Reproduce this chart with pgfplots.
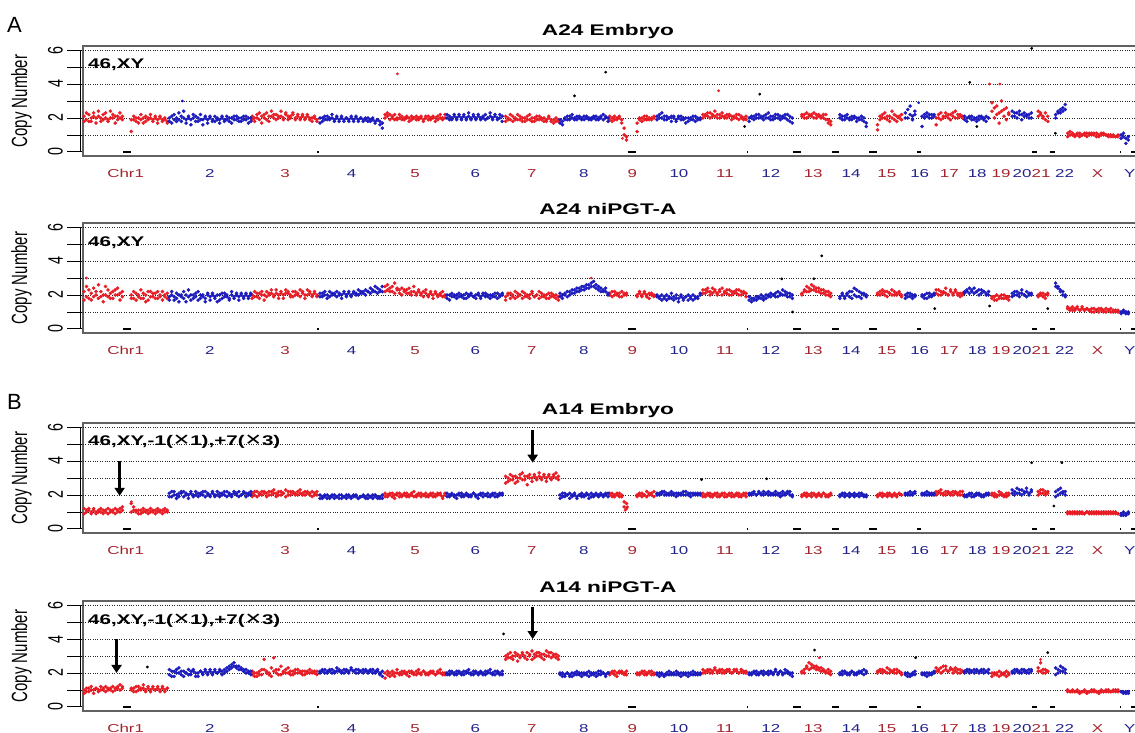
\documentclass[border=0pt]{standalone}
\usepackage{pgfplots}
\pgfplotsset{compat=1.18}
\usepackage{pgfplotstable}
\usepackage{fontspec}
\setmainfont{Liberation Sans}
\newfontfamily\hfont[FakeStretch=1.47]{Liberation Sans}
\newfontfamily\vfont[FakeStretch=0.68]{Liberation Sans}
\newfontfamily\djv[FakeStretch=1.3]{DejaVu Sans}
\usetikzlibrary{arrows.meta}
\definecolor{dred}{RGB}{232,28,36}
\definecolor{dblue}{RGB}{28,28,190}
\definecolor{lred}{RGB}{165,35,45}
\definecolor{lblue}{RGB}{35,35,140}
\newcommand{\tm}{{\djv\mdseries\fontsize{16}{16}\selectfont ✕}}
\newcommand{\yl}[1]{\vfont\fontsize{21}{21}\selectfont #1}

% columns: x (Mb, cumulative); a,b = A24 Embryo; c,d = A24 niPGT-A; e,f = A14 Embryo; g,h = A14 niPGT-A
\pgfplotstableread{
x a b c d e f g h
3 2.1 1.8 2.2 1.7 1.2 0.9 1.0 0.8
10 1.9 2.3 1.9 2.5 1.0 1.1 0.9 1.1
17 2.2 1.8 2.3 1.8 1.1 1.2 1.1 0.9
24 1.8 2.0 1.7 2.1 0.9 1.0 1.0 1.2
31 2.3 2.1 2.4 1.9 1.2 1.1 0.8 1.0
38 2.0 1.7 2.0 2.2 1.0 0.9 1.1 1.1
45 2.1 2.4 1.8 2.6 1.1 1.0 1.0 0.9
52 1.8 2.0 2.2 1.9 1.0 1.2 1.2 1.0
59 2.2 1.9 2.0 1.6 0.9 1.1 1.0 1.1
66 2.0 2.3 2.5 2.0 1.1 1.0 0.9 1.2
73 1.9 1.8 1.9 2.3 1.2 0.9 1.1 1.0
80 2.4 2.0 2.1 1.8 1.0 1.1 1.0 1.1
87 2.0 2.2 1.8 2.2 1.1 1.0 1.2 0.9
94 1.7 2.1 2.3 2.0 0.9 1.2 1.0 1.1
101 2.1 1.9 2.0 2.4 1.0 1.1 1.1 1.2
108 2.0 2.3 1.7 2.1 1.2 1.0 1.3 1.0
115 1.9 2.1 2.2 1.9 1.1 1.3 1.2 1.1
141 1.2 1.9 2.0 1.8 1.5 1.0 1.0 1.1
148 1.9 2.1 1.8 2.2 1.1 1.3 1.1 0.9
155 1.8 2.0 2.1 1.7 1.0 1.1 0.9 1.2
162 2.0 1.7 1.9 2.0 1.1 0.9 1.2 1.0
169 1.9 2.2 2.3 1.8 0.9 1.1 1.0 1.1
176 1.7 2.0 1.8 2.1 1.2 1.0 1.1 1.3
183 2.1 1.8 2.0 1.6 1.0 1.1 1.0 0.9
190 1.9 2.0 1.7 2.2 1.1 0.9 1.2 1.1
197 2.0 2.2 2.2 1.9 1.0 1.2 0.9 1.0
204 1.8 1.9 1.9 2.1 1.1 1.0 1.1 1.2
211 2.1 2.0 2.1 1.8 0.9 1.1 1.0 1.0
218 1.9 1.7 1.8 2.2 1.2 1.0 1.2 1.1
225 2.0 2.1 2.0 1.9 1.0 1.1 1.0 0.9
232 1.8 1.9 2.2 1.7 1.1 0.9 1.1 1.2
239 1.9 2.0 1.9 2.0 1.0 1.2 0.9 1.0
246 1.7 1.8 1.8 2.1 1.1 1.0 1.1 1.1
494 1.9 2.1 2.0 1.8 2.1 1.9 1.9 2.1
501 2.0 1.8 1.9 2.2 2.2 2.0 2.0 1.8
508 2.2 2.0 2.1 1.9 1.9 2.2 1.8 2.0
515 1.9 2.3 1.8 2.1 2.1 2.0 2.1 1.9
522 2.1 1.7 2.2 2.0 2.0 2.2 1.9 2.2
529 2.0 2.2 2.0 1.7 2.2 2.1 2.2 2.8
536 2.3 1.9 1.9 2.2 2.1 1.9 2.0 2.1
543 1.8 2.1 2.1 2.0 2.0 2.2 1.9 2.0
550 2.1 2.4 2.3 2.1 2.2 2.0 2.3 1.8
557 2.2 2.0 2.0 1.9 2.1 2.3 2.1 2.9
564 1.9 2.2 2.1 2.3 1.9 2.1 2.0 2.2
571 2.1 2.0 1.8 2.0 2.2 2.0 2.2 1.9
578 2.4 2.1 2.2 2.1 2.0 2.2 1.9 2.4
585 2.0 1.9 2.0 1.8 2.1 2.1 2.1 2.0
592 2.2 2.3 2.3 2.1 2.3 1.9 2.0 2.2
599 1.9 2.1 2.1 2.2 2.0 2.2 2.3 2.0
606 2.1 2.0 1.9 2.0 2.2 2.0 2.1 1.9
613 2.3 2.2 2.2 1.9 2.1 2.2 1.9 2.1
620 2.0 1.9 2.0 2.2 2.0 2.1 2.0 2.2
627 2.1 2.2 2.1 2.0 2.2 2.0 2.2 2.0
634 1.9 2.0 1.9 2.3 2.1 2.3 2.0 2.1
641 2.2 2.1 2.2 2.1 2.0 2.1 2.1 1.9
648 2.0 1.9 2.0 1.8 2.2 2.0 1.9 2.1
655 2.1 2.2 2.3 2.0 2.1 2.2 2.1 2.0
662 1.9 2.0 2.1 2.2 2.0 2.1 2.0 2.2
669 2.0 1.8 1.9 2.0 2.2 1.9 2.1 2.0
676 2.1 2.0 2.2 2.1 2.1 2.0 2.0 2.1
683 1.8 1.9 2.0 1.9 2.0 2.2 2.1 1.9
882 2.2 2.0 2.5 2.2 1.9 2.1 1.7 2.0
889 2.1 2.3 2.3 2.6 2.0 1.9 1.9 2.1
896 1.9 2.2 2.4 2.2 2.1 2.0 2.0 1.8
903 2.0 2.1 2.2 2.5 1.9 2.1 2.1 1.9
910 2.2 1.9 2.7 2.1 2.0 1.8 1.8 2.0
917 1.9 2.0 2.3 2.4 2.1 2.0 2.0 2.2
924 2.0 2.2 2.1 2.3 1.9 2.1 1.9 2.0
931 2.1 1.9 2.4 2.0 2.0 1.9 2.1 1.9
938 1.9 2.0 2.2 2.3 2.1 2.0 2.0 2.1
945 2.0 2.1 2.3 2.1 1.9 2.1 1.9 2.0
952 1.8 2.0 2.1 2.4 2.0 1.9 2.1 1.8
959 2.1 1.9 2.2 2.0 2.1 2.0 2.0 2.1
966 2.0 2.0 2.5 2.2 1.9 2.2 1.9 2.0
973 1.9 2.1 2.1 2.0 2.0 1.9 2.1 1.9
980 2.0 1.9 2.3 2.2 2.1 2.0 2.0 2.2
987 2.1 2.0 2.0 2.1 1.9 2.1 1.9 2.0
994 1.9 1.8 2.2 1.9 2.0 2.0 2.1 2.1
1001 2.0 2.1 2.1 2.3 2.1 1.9 2.0 1.9
1008 2.1 1.9 1.9 2.0 1.9 2.0 1.9 2.0
1015 1.9 2.0 2.2 2.1 2.0 2.1 2.1 2.0
1022 2.0 2.1 2.0 1.8 2.1 1.9 2.0 2.1
1029 1.8 2.0 2.1 2.2 1.9 2.0 1.9 1.9
1036 2.1 1.9 1.9 2.0 2.0 2.1 2.1 2.0
1043 2.0 2.2 2.0 2.1 2.1 2.0 2.0 2.2
1050 1.9 2.0 2.2 1.9 1.9 1.8 1.9 2.0
1057 2.2 2.0 1.9 2.0 2.0 2.1 2.0 1.9
1234 1.8 2.1 1.9 1.7 2.7 3.1 2.8 3.0
1241 2.0 1.9 2.1 2.0 3.0 2.8 3.1 2.9
1248 1.9 2.2 1.8 2.1 3.2 2.9 2.9 3.2
1255 2.1 1.8 2.0 1.9 2.9 3.1 3.0 2.8
1262 1.9 2.0 2.2 1.8 3.1 2.7 3.2 3.0
1269 2.2 1.9 1.9 2.1 2.8 3.0 2.7 3.1
1276 1.9 2.1 2.0 2.0 3.0 3.2 3.0 2.9
1283 2.0 1.8 1.8 2.2 3.3 2.9 3.1 3.2
1290 1.8 2.0 2.1 1.9 2.9 3.1 2.9 3.0
1297 2.1 1.9 1.9 2.0 3.1 2.6 3.2 2.8
1304 1.9 2.2 2.0 1.8 3.0 3.2 3.0 3.1
1311 2.0 1.8 2.2 2.1 2.8 3.0 2.8 3.3
1318 1.8 2.0 1.9 1.9 3.2 3.1 3.1 2.9
1325 2.1 1.9 2.0 2.0 3.0 2.9 3.0 3.2
1332 1.9 2.1 1.8 2.2 3.1 3.3 3.2 3.0
1339 2.0 1.9 2.1 1.9 2.9 3.0 2.9 3.1
1346 1.8 2.0 1.9 2.0 3.2 3.1 3.1 2.8
1353 1.9 1.8 2.0 1.8 3.0 2.8 3.3 3.0
1360 2.0 2.1 1.8 2.1 3.1 3.2 3.0 3.2
1367 1.8 1.9 2.1 1.9 2.9 3.0 3.2 2.9
1374 1.9 1.7 1.9 2.0 3.2 3.1 3.0 3.1
1381 1.8 2.0 2.0 1.8 3.0 3.3 3.1 2.9
1388 1.9 1.8 1.9 1.7 3.1 2.9 2.8 3.0
1538 1.9 2.1 2.0 2.1 2.0 2.1 2.0 1.9
1545 2.0 1.8 2.2 1.9 2.1 1.9 2.1 2.0
1552 2.1 1.9 2.0 2.2 1.9 2.0 1.9 2.1
1559 1.9 2.0 2.1 2.0 2.0 2.1 2.0 1.8
1566 2.0 2.1 1.9 2.1 2.1 1.9 2.1 2.0
1573 1.7 1.9 2.2 1.9 1.9 2.0 2.0 2.1
1580 1.0 1.4 2.0 2.1 1.3 1.6 1.9 2.0
1587 0.7 0.9 2.1 2.0 1.2 1.5 2.1 1.9
1618 1.7 1.2 1.9 2.0 1.9 2.0 2.0 1.9
1625 1.9 2.0 2.1 2.2 2.0 2.1 1.9 2.0
1632 2.0 1.8 2.0 1.9 2.1 1.9 2.0 2.1
1639 1.9 2.1 2.2 2.1 2.0 2.0 2.1 1.9
1646 2.1 1.9 1.9 2.0 1.9 2.2 1.9 2.0
1653 1.9 2.0 2.1 1.8 2.1 2.0 2.0 2.1
1660 2.0 1.9 2.0 2.1 2.0 2.1 2.1 1.9
1667 2.1 2.0 1.9 2.0 2.2 1.9 1.9 2.0
1810 2.0 2.2 2.1 2.3 1.9 2.1 2.0 2.2
1817 2.2 2.1 2.3 2.1 2.0 1.9 2.1 2.0
1824 2.1 2.3 2.2 2.4 2.1 2.0 2.2 2.1
1831 2.3 2.0 2.0 2.2 1.9 2.1 2.0 2.2
1838 2.1 2.2 2.4 2.1 2.0 1.9 2.1 2.0
1845 2.4 2.1 2.2 2.3 2.1 2.0 2.2 2.3
1852 2.0 2.2 2.1 2.0 1.9 2.1 2.0 2.1
1859 2.2 2.0 2.3 2.2 2.0 1.9 2.1 2.2
1866 2.1 2.3 2.0 2.4 2.1 2.0 2.2 2.0
1873 2.0 2.1 2.2 2.1 1.9 2.1 2.0 2.1
1880 2.2 2.0 2.1 2.3 2.0 1.9 2.1 2.2
1887 2.1 2.2 2.3 2.0 2.1 2.0 2.2 2.1
1894 1.9 2.1 2.0 2.2 1.9 2.1 2.0 2.0
1901 2.1 2.0 2.2 2.1 2.0 1.9 2.1 2.2
1908 2.0 2.2 2.1 2.3 2.1 2.0 2.2 2.1
1915 2.2 1.9 2.3 2.0 1.9 2.1 2.0 2.0
1922 2.0 2.1 2.0 2.2 2.0 1.9 2.1 2.2
1929 1.9 2.0 2.2 2.1 2.1 2.0 2.0 2.1
1936 2.1 1.9 2.1 1.9 1.9 2.1 2.1 2.0
2099 2.1 2.2 2.1 2.0 2.0 1.9 2.0 2.1
2106 2.2 2.0 2.3 2.2 2.1 2.0 2.2 2.0
2113 2.0 2.3 2.2 2.5 1.9 2.1 2.3 2.4
2120 2.2 2.1 2.4 2.2 2.0 2.0 2.2 2.6
2127 2.1 2.2 2.3 2.6 2.1 1.9 2.5 2.3
2134 2.3 2.0 2.5 2.3 2.0 2.1 2.3 2.4
2141 2.0 2.2 2.4 2.2 1.9 2.0 2.4 2.2
2148 2.2 2.1 2.2 2.4 2.1 2.0 2.2 2.3
2155 2.1 2.0 2.3 2.1 2.0 1.9 2.3 2.1
2162 2.0 2.2 2.1 2.3 2.1 2.1 2.1 2.2
2169 2.2 1.9 2.2 2.0 1.9 2.0 2.0 2.1
2176 1.9 1.7 2.0 2.2 2.0 1.9 2.2 2.0
2183 1.8 1.6 2.1 1.9 2.1 2.0 1.9 2.1
2320 1.3 1.6 2.0 2.1 2.0 1.9 2.0 2.1
2327 2.1 1.9 2.2 2.0 2.1 2.0 2.1 2.2
2334 2.0 2.2 2.1 2.3 1.9 2.1 2.2 2.0
2341 2.3 2.0 2.0 2.2 2.0 2.0 2.1 2.1
2348 1.9 2.1 2.2 1.9 2.1 1.9 2.0 2.3
2355 2.1 1.8 2.1 2.1 2.0 2.1 2.2 2.0
2362 2.0 2.4 2.3 2.0 1.9 2.0 2.1 2.1
2369 2.2 1.9 2.0 2.2 2.1 2.0 2.0 2.2
2376 1.8 2.1 2.1 2.0 2.0 1.9 2.2 2.0
2383 2.1 2.0 2.2 2.1 2.1 2.1 2.1 2.1
2390 1.9 2.2 2.0 1.9 2.0 2.0 2.0 1.9
2491 2.0 1.6 2.1 2.3 2.0 2.2 2.1 2.3
2498 2.2 2.0 2.3 2.0 2.2 2.1 2.2 2.1
2505 1.9 2.3 2.0 2.2 2.1 2.3 2.3 2.0
2512 2.1 2.0 2.2 2.1 2.0 2.1 2.1 2.4
2519 2.3 2.1 2.1 2.4 2.2 2.0 2.4 2.2
2526 2.0 2.2 2.0 2.0 2.1 2.2 2.1 2.1
2533 2.2 1.9 2.3 2.2 2.0 2.1 2.2 2.3
2540 2.1 2.3 2.1 2.0 2.2 2.0 2.0 2.2
2547 2.4 2.0 2.2 2.3 2.1 2.2 2.3 2.1
2554 2.0 2.2 2.0 2.1 2.0 2.1 2.2 2.0
2561 2.2 2.1 2.1 1.9 2.2 2.0 2.0 2.2
2568 2.1 2.0 2.0 2.1 2.0 2.2 2.1 2.1
2654 2.4 2.9 1.8 1.9 2.0 2.1 2.0 1.8
2661 2.0 2.6 1.9 1.7 2.1 1.9 1.9 2.0
2668 2.7 2.2 1.7 2.0 1.9 2.0 2.0 1.9
2675 2.3 1.7 1.9 1.8 2.0 2.2 1.8 2.1
2682 3.0 2.4 1.8 2.0 2.1 2.0 2.0 1.9
2689 2.1 2.5 2.0 1.8 2.0 1.9 1.9 2.0
2696 2.6 1.9 1.8 1.9 1.9 2.1 2.1 1.8
2703 2.2 2.3 1.9 1.7 2.1 2.0 1.9 2.0
2789 2.4 2.1 2.0 1.9 2.2 2.0 2.3 2.1
2796 2.2 2.3 2.1 2.0 2.1 2.3 2.1 2.6
2803 2.0 2.1 1.9 2.1 2.3 2.1 2.0 2.2
2810 2.3 1.9 2.0 1.8 2.0 2.2 2.2 2.0
2817 2.1 1.8 2.1 2.0 2.2 2.1 2.1 2.1
2875 1.1 0.9 1.3 1.2 1.0 0.9 1.0 0.9
2882 1.0 1.2 1.2 1.1 0.9 1.0 0.9 0.9
2889 1.1 1.0 1.1 1.3 1.0 0.9 0.9 1.0
2896 0.9 1.0 1.2 1.1 0.9 1.0 0.9 0.9
2903 1.0 1.1 1.3 1.2 1.0 0.9 1.0 0.9
2910 1.1 0.9 1.1 1.1 0.9 1.0 0.9 0.8
2917 1.0 1.0 1.2 1.3 1.0 0.9 0.9 0.9
2924 1.1 1.0 1.1 1.1 0.9 0.9 1.0 0.9
2931 0.9 1.1 1.2 1.2 1.0 1.0 0.9 0.8
2938 1.0 1.1 1.1 1.1 0.9 1.0 0.9 0.9
2945 1.1 1.0 1.2 1.0 1.0 0.9 0.9 1.0
2952 1.0 1.1 1.0 1.2 0.9 1.0 1.0 0.9
2959 1.1 0.9 1.1 1.1 1.0 0.9 0.9 0.9
2966 0.9 1.0 1.2 1.0 0.9 1.0 0.9 0.8
2973 1.0 1.1 1.1 1.2 1.0 0.9 1.0 0.9
2980 1.1 1.0 1.0 1.1 0.9 1.0 0.9 0.9
2987 1.0 1.0 1.2 1.0 1.0 0.9 0.9 1.0
2994 1.0 0.9 1.1 1.1 0.9 1.0 1.0 0.9
3001 0.9 1.0 1.0 1.2 1.0 0.9 0.9 0.9
3008 1.0 0.9 1.1 1.0 0.9 1.0 1.0 0.9
3015 0.9 0.9 1.0 1.1 1.0 0.9 0.9 1.0
3022 0.9 1.0 1.1 1.0 0.9 0.9 1.0 0.9
}\redtab

\pgfplotstableread{
x a b c d e f g h
252 1.8 2.0 1.9 1.7 2.1 1.9 1.9 2.2
259 2.1 1.7 2.0 2.2 1.9 2.2 2.1 1.8
266 1.9 2.2 1.7 1.9 2.2 2.0 1.8 2.1
273 2.0 1.8 1.8 2.1 2.0 1.8 2.2 2.0
280 2.3 1.9 2.0 1.6 1.9 2.1 2.0 2.3
287 1.8 2.1 1.9 2.0 2.1 2.2 1.9 2.1
294 2.0 2.4 2.2 1.8 2.2 1.9 2.1 1.8
301 1.7 1.9 1.6 2.0 2.0 2.1 2.0 2.0
308 2.1 2.0 1.9 2.3 1.8 2.0 2.2 1.9
315 1.9 1.6 2.0 1.7 2.1 2.2 1.9 2.1
322 2.2 2.0 1.8 2.0 2.0 1.9 2.1 2.2
329 1.8 2.1 2.1 1.9 2.2 2.0 2.0 1.8
336 2.0 1.8 1.7 2.2 1.9 2.1 1.8 2.0
343 1.9 2.2 2.0 1.8 2.1 2.0 2.1 2.1
350 1.6 1.9 1.9 2.0 2.0 2.2 2.0 1.9
357 2.1 2.0 1.8 1.6 2.2 1.9 2.2 2.1
364 1.9 1.7 2.0 2.1 2.0 2.1 1.9 2.0
371 2.0 2.1 1.7 1.9 1.9 2.0 2.1 2.2
378 1.8 1.9 2.1 2.0 2.1 2.2 2.0 1.9
385 2.1 1.8 1.9 1.8 2.0 1.9 2.2 2.1
392 1.9 2.0 1.6 2.0 2.2 2.0 2.0 2.0
399 1.7 1.9 2.0 1.7 1.9 2.1 2.1 2.2
406 2.0 2.1 1.8 2.1 2.1 2.0 1.9 2.1
413 1.9 1.8 2.1 1.9 2.0 2.2 2.2 2.0
420 2.1 1.9 1.9 2.0 2.2 1.9 2.3 2.1
427 1.8 2.0 1.7 1.8 2.0 2.1 2.2 2.4
434 2.0 1.7 2.0 2.2 1.9 2.0 2.5 2.3
441 1.9 2.1 1.8 1.9 2.1 2.2 2.4 2.6
448 2.1 1.9 2.1 2.0 2.0 2.1 2.3 2.4
455 1.8 2.0 1.9 1.7 2.2 1.9 2.4 2.2
462 2.0 1.8 2.0 2.1 2.0 2.0 2.2 2.3
469 1.9 2.1 1.8 1.9 2.1 2.2 2.1 2.2
476 2.1 1.9 2.1 2.0 1.9 2.1 2.2 2.0
483 1.7 2.0 1.9 1.8 2.1 2.0 2.0 2.1
490 2.0 1.8 2.0 2.1 2.0 2.2 2.1 1.9
692 1.7 2.0 1.9 2.1 1.8 2.0 2.0 2.1
699 2.0 1.8 2.1 1.9 1.9 1.8 2.1 2.2
706 1.9 2.1 2.0 2.2 2.0 1.9 2.2 2.0
713 2.1 1.9 1.8 2.0 1.8 2.0 2.0 2.1
720 1.9 2.0 2.2 1.9 1.9 1.8 2.1 2.2
727 2.0 2.2 2.0 2.1 2.0 1.9 2.2 2.0
734 1.8 1.9 2.1 2.0 1.8 2.0 2.0 2.1
741 2.1 2.0 1.9 2.2 1.9 1.9 2.1 2.3
748 1.9 1.8 2.1 2.0 2.0 1.8 2.2 2.1
755 2.0 2.1 2.0 1.8 1.8 2.0 2.1 2.0
762 1.8 1.9 2.2 2.1 1.9 1.9 2.0 2.2
769 2.0 2.0 1.9 2.0 2.0 1.8 2.2 2.1
776 1.9 1.8 2.1 2.2 1.9 2.0 2.1 2.0
783 2.1 2.0 2.0 1.9 1.8 1.9 2.3 2.2
790 1.8 1.9 2.2 2.1 2.0 1.9 2.1 2.1
797 2.0 2.1 2.1 2.0 1.9 2.0 2.0 2.2
804 1.9 1.8 2.0 2.3 1.8 1.8 2.2 2.0
811 2.0 2.0 2.2 2.1 1.9 1.9 2.1 2.1
818 1.8 1.9 2.1 2.2 2.0 1.9 2.0 2.2
825 1.9 2.0 2.3 2.0 1.9 1.8 2.2 2.1
832 2.0 1.8 2.2 2.2 1.8 2.0 2.1 2.0
839 1.8 1.9 2.1 2.4 1.9 1.9 2.2 2.1
846 1.9 2.0 2.3 2.2 2.0 1.8 2.0 2.2
853 1.7 1.8 2.2 2.5 1.9 2.0 2.1 2.0
860 1.9 1.9 2.4 2.1 1.8 1.9 2.2 2.1
867 1.6 1.8 2.2 2.3 1.9 1.8 2.0 1.9
874 1.4 1.7 2.5 2.2 1.8 2.0 2.1 1.8
1063 2.0 2.2 1.8 2.0 1.9 2.1 2.0 1.9
1070 2.1 1.9 2.0 1.7 2.0 1.9 1.9 2.1
1077 1.9 2.0 1.9 2.1 2.1 2.0 2.1 2.0
1084 2.2 2.1 2.0 1.9 1.9 2.0 2.0 1.9
1091 2.0 1.9 1.8 2.0 2.0 1.8 1.9 2.1
1098 2.1 2.2 2.1 1.9 2.1 2.0 2.1 2.0
1105 1.9 2.0 1.9 2.0 1.9 2.1 2.0 1.9
1112 2.2 2.1 2.0 1.8 2.0 1.9 1.9 2.1
1119 2.0 1.9 1.8 2.1 2.1 2.0 2.1 2.0
1126 2.1 2.3 2.0 1.9 1.9 2.0 2.0 2.2
1133 1.9 2.0 2.1 2.0 2.0 1.9 1.9 2.0
1140 2.2 2.1 1.9 1.9 2.1 2.1 2.1 1.9
1147 2.0 1.9 1.8 2.0 1.9 2.0 2.0 2.1
1154 2.1 2.2 2.0 2.1 2.0 1.8 1.9 2.0
1161 1.9 2.0 1.9 1.8 2.1 2.0 2.1 2.0
1168 2.0 2.1 2.1 2.0 1.9 2.1 2.0 1.9
1175 2.2 1.9 1.9 2.1 2.0 2.0 1.9 2.1
1182 2.0 2.0 2.0 1.9 2.1 1.9 2.1 2.0
1189 2.3 2.1 1.8 2.0 1.9 2.0 2.0 2.2
1196 1.9 2.0 2.0 1.9 2.0 2.1 1.9 2.0
1203 2.1 2.2 1.9 2.1 2.1 1.9 2.1 1.9
1210 2.0 1.9 2.1 1.8 1.9 2.0 2.0 2.1
1217 2.2 2.0 1.9 2.0 2.0 2.1 1.9 2.0
1224 1.8 2.1 2.0 2.1 2.1 2.0 2.1 1.9
1393 1.7 1.9 1.9 2.1 2.0 1.8 1.9 2.0
1400 1.8 1.6 2.0 1.8 1.9 2.1 2.0 1.8
1407 2.0 1.9 2.1 2.0 2.1 1.9 1.8 1.9
1414 1.9 2.1 1.9 2.2 2.0 2.0 2.0 2.0
1421 2.1 1.9 2.2 2.0 1.8 2.1 1.9 1.8
1428 2.0 2.2 2.1 2.3 2.0 1.9 1.8 2.0
1435 1.9 2.0 2.3 2.1 2.1 2.0 2.0 1.9
1442 2.1 1.9 2.2 2.4 1.9 1.8 1.9 2.1
1449 2.0 2.1 2.4 2.2 2.0 2.0 2.0 1.9
1456 1.9 2.0 2.3 2.5 2.1 1.9 1.8 2.0
1463 2.1 1.9 2.5 2.3 1.9 2.0 2.0 1.9
1470 2.0 2.1 2.4 2.6 2.0 2.1 1.9 2.0
1477 1.9 2.0 2.6 2.4 1.8 2.0 2.1 1.8
1484 2.0 1.9 2.5 2.7 2.1 1.9 1.9 2.0
1491 2.1 2.0 2.8 2.5 1.9 2.0 2.0 1.9
1498 1.9 2.1 2.6 2.4 2.0 2.1 1.8 2.0
1505 2.0 1.9 2.3 2.5 2.0 1.9 1.9 2.1
1512 2.1 2.0 2.4 2.2 2.1 2.0 2.1 1.9
1519 1.9 2.2 2.3 2.2 1.9 2.0 2.0 2.0
1526 2.0 2.1 2.2 2.4 2.0 2.1 1.9 1.8
1533 1.8 2.0 2.1 2.0 2.1 1.9 2.0 2.0
1676 2.1 1.9 1.9 2.0 2.0 2.1 1.9 2.0
1683 2.2 2.0 1.8 1.9 2.1 2.0 2.0 1.8
1690 2.0 2.3 2.0 1.7 2.2 2.1 1.9 2.0
1697 1.9 2.1 1.8 1.9 2.0 2.2 1.8 1.9
1704 2.1 1.9 1.7 2.0 2.1 2.0 2.0 1.9
1711 2.0 2.0 1.9 1.8 2.0 2.1 1.9 2.1
1718 1.8 2.1 1.8 2.1 2.2 2.0 2.0 1.9
1725 2.1 2.0 1.7 1.9 2.0 2.1 1.9 2.0
1732 1.9 1.8 2.0 1.8 2.1 1.9 2.1 1.9
1739 2.0 2.1 1.8 1.6 2.0 2.1 1.9 2.0
1746 2.1 1.9 1.9 2.0 2.1 2.0 2.0 1.8
1753 1.9 2.0 1.7 1.8 2.0 2.2 1.9 2.0
1760 2.0 1.7 1.9 1.9 2.2 2.0 2.0 1.9
1767 1.8 2.0 2.0 1.7 2.0 2.1 1.8 2.0
1774 2.0 1.9 1.8 1.9 2.1 1.9 2.0 1.9
1781 1.9 2.1 1.7 2.0 2.0 2.1 1.9 2.1
1788 2.1 1.8 1.9 1.8 2.1 2.0 2.0 1.9
1795 1.9 2.0 1.8 1.9 2.0 2.1 1.9 2.0
1802 2.0 1.9 2.0 2.1 2.1 2.0 2.0 1.9
1945 1.8 2.0 1.7 1.9 2.0 2.1 1.9 2.0
1952 2.0 2.1 1.6 1.8 2.1 2.0 2.0 1.9
1959 2.1 1.9 1.8 1.7 2.2 2.1 2.1 2.0
1966 2.2 2.0 1.7 1.9 2.0 2.0 1.9 2.1
1973 2.0 2.2 1.9 1.8 2.1 2.2 2.0 1.9
1980 2.1 2.0 1.8 2.0 2.0 2.1 2.1 2.0
1987 1.9 2.1 1.9 1.7 2.2 2.0 1.9 2.1
1994 2.2 2.0 1.8 2.0 2.1 2.1 2.0 2.0
2001 2.0 2.3 2.0 1.9 2.0 2.2 2.1 1.9
2008 2.1 1.9 1.9 2.1 2.1 2.0 2.0 2.1
2015 1.9 2.1 2.0 2.0 2.0 2.1 1.9 2.0
2022 2.2 2.0 2.1 1.9 2.2 2.0 2.1 2.2
2029 2.0 2.2 1.9 2.2 2.0 2.1 2.0 1.9
2036 2.1 1.9 2.1 2.0 2.1 1.9 2.1 2.1
2043 2.0 2.1 2.0 2.3 2.0 2.2 1.9 2.0
2050 2.2 2.0 2.2 2.0 2.1 2.0 2.0 2.2
2057 1.9 2.2 1.9 2.1 2.2 2.1 2.1 2.0
2064 2.1 1.8 2.1 1.9 2.0 2.2 2.0 1.9
2071 1.7 2.0 2.0 1.8 1.9 2.0 1.8 2.0
2210 2.0 2.2 1.9 1.8 2.0 1.9 2.0 1.9
2217 2.1 1.9 2.0 2.1 2.1 2.0 1.9 2.1
2224 1.9 2.1 1.8 1.9 1.9 2.1 2.1 2.0
2231 2.2 2.0 2.1 2.0 2.0 2.0 2.0 1.9
2238 2.0 1.9 1.9 2.2 2.1 1.9 1.9 2.0
2245 1.9 2.1 2.2 1.8 2.0 2.0 2.1 2.1
2252 2.1 2.0 2.0 2.4 1.9 2.1 2.0 1.9
2259 2.0 1.8 2.3 1.9 2.0 2.0 1.9 2.0
2266 1.9 2.0 1.9 2.2 2.1 1.9 2.0 2.1
2273 2.1 1.9 2.1 1.8 2.0 2.1 2.1 2.0
2280 1.8 2.0 2.0 2.1 1.9 2.0 2.2 1.9
2287 1.7 1.5 1.9 2.0 2.0 1.9 2.0 2.1
2401 2.3 2.0 2.0 1.8 2.0 2.1 1.9 2.0
2408 2.0 2.5 1.9 2.1 2.1 2.0 2.0 1.8
2415 2.7 2.2 2.1 1.9 2.0 2.2 1.8 1.9
2422 2.1 1.9 1.8 2.0 2.1 2.0 2.0 1.9
2429 2.2 2.4 2.0 1.9 2.2 2.1 1.9 2.1
2450 1.5 2.1 1.9 2.0 2.0 2.1 2.0 1.9
2457 2.2 2.0 2.0 1.8 2.1 2.0 1.9 2.0
2464 2.1 2.3 1.8 2.1 2.0 2.2 2.0 1.8
2471 2.0 2.2 2.1 1.9 2.1 2.0 1.9 2.0
2478 2.2 2.0 1.9 2.0 2.0 2.1 2.0 1.9
2485 2.1 2.2 2.0 2.1 2.1 2.0 2.1 2.0
2574 1.9 2.1 2.2 2.1 2.0 1.9 2.1 2.0
2581 2.0 1.8 2.3 2.2 1.9 2.0 2.2 2.1
2588 2.1 2.0 2.1 2.4 2.0 2.1 2.0 2.2
2595 1.9 2.1 2.2 2.3 2.1 1.9 2.1 2.1
2602 2.0 1.9 2.4 2.1 1.9 2.0 2.2 2.0
2609 1.8 2.0 2.2 2.2 2.0 2.1 2.1 2.2
2616 2.1 1.9 2.3 2.0 2.1 2.0 2.0 2.1
2623 2.0 2.1 2.1 2.3 2.0 1.9 2.1 2.2
2630 1.9 2.0 2.2 2.2 1.9 2.0 2.2 2.0
2637 2.1 1.8 2.0 2.1 2.0 2.1 2.1 2.1
2644 2.0 2.0 2.2 2.0 2.1 2.0 2.0 2.2
2713 2.4 2.1 2.1 1.9 2.1 2.3 2.1 2.0
2720 2.1 2.3 2.0 2.2 2.2 2.0 2.0 2.2
2727 2.3 2.0 2.2 2.0 2.4 2.1 2.2 2.1
2734 2.2 2.4 1.9 2.1 2.1 2.3 2.1 2.0
2741 1.9 2.2 2.1 2.3 2.3 2.0 2.0 2.2
2748 2.3 2.1 2.0 2.0 2.1 2.2 2.2 2.1
2755 2.1 2.2 2.2 1.9 2.2 2.4 2.1 2.0
2762 2.2 2.0 2.0 2.1 2.0 2.1 2.0 2.2
2769 2.0 2.3 2.1 2.0 2.3 2.2 2.2 2.1
2840 2.2 2.0 2.7 2.5 2.2 1.9 1.9 2.3
2847 2.4 2.3 2.5 2.4 2.0 2.3 2.2 2.0
2854 2.3 2.5 2.3 2.2 2.4 2.1 2.1 2.4
2861 2.6 2.4 2.2 2.0 2.1 2.2 2.3 2.1
2868 2.8 2.5 2.0 1.9 2.2 2.0 2.0 2.2
3031 1.0 0.8 1.0 0.9 0.9 0.8 0.9 0.9
3038 0.9 1.1 1.0 1.1 0.8 1.0 0.9 0.8
3045 0.8 0.5 0.9 1.0 0.9 0.8 0.8 0.9
3052 0.9 0.7 1.0 0.9 1.0 0.9 0.9 0.8
}\bluetab

% no-data (gap) segments drawn at copy number 0
\pgfplotstableread{
x y
118 0
140 0
140 nan
684 0
688 0
688 nan
1590 0
1614 0
1614 nan
1939 0
1943 0
1943 nan
2074 0
2097 0
2097 nan
2188 0
2208 0
2208 nan
2296 0
2318 0
2318 nan
2435 0
2448 0
2448 nan
2772 0
2786 0
2786 nan
2823 0
2837 0
2837 nan
3029 0
3032 0
3032 nan
3060 0
3095 0
}\gaptab

\newcommand{\gridl}{%
  \pgfplotsinvokeforeach{1,...,6}{%
    \draw[black!85, line width=0.8pt, dash pattern=on 0.9pt off 1.5pt] (axis cs:0,##1) -- (axis cs:3098,##1);}%
  \draw[black, line width=1pt] ([xshift=-3pt]axis cs:0,0) -- ([xshift=-3pt]axis cs:0,6);%
}

\pgfplotsset{
  redpt/.style={only marks, mark=*, color=dred, mark size=1.6pt},
  bluept/.style={only marks, mark=*, color=dblue, mark size=1.6pt},
  blkpt/.style={only marks, mark=*, color=black, mark size=1.2pt},
  gapl/.style={black, line width=2.6pt, no marks, unbounded coords=jump},
  cnv/.style={
    scale only axis, width=1061pt, height=110pt,
    xmin=0, xmax=3098, ymin=-0.24, ymax=6.24,
    clip=false, anchor=south west,
    axis line style={draw=black!62, line width=1.6pt},
    xtick={124.5,370,590,784,969.5,1145.5,1310.5,1462.5,1604,1740,1874.5,2008.5,2132,2242.5,2347,2443,2529.5,2611,2680.5,2742,2797.5,2866,2962,3056.5},
    xticklabels={\textcolor{lred}{Chr1},\textcolor{lblue}{2},\textcolor{lred}{3},\textcolor{lblue}{4},\textcolor{lred}{5},\textcolor{lblue}{6},\textcolor{lred}{7},\textcolor{lblue}{8},\textcolor{lred}{9},\textcolor{lblue}{10},\textcolor{lred}{11},\textcolor{lblue}{12},\textcolor{lred}{13},\textcolor{lblue}{14},\textcolor{lred}{15},\textcolor{lblue}{16},\textcolor{lred}{17},\textcolor{lblue}{18},\textcolor{lred}{19},\textcolor{lblue}{20},\textcolor{lred}{21},\textcolor{lblue}{22},\textcolor{lred}{X},\textcolor{lblue}{Y}},
    xtick style={draw=none},
    xticklabel style={font=\hfont\fontsize{11.5}{12}\selectfont, anchor=base, inner sep=0pt, yshift=-5pt},
    ytick={0,2,4,6}, yticklabels={\yl{0},\yl{2},\yl{4},\yl{6}}, minor ytick={1,3,5},
    tick align=outside, major tick length=16pt, minor tick length=16pt,
    ytick style={black, line width=0.9pt},
    minor tick style={black, line width=0.9pt},
    yticklabel style={xshift=-4pt, rotate=90, anchor=south, inner sep=0pt},
  }
}

\begin{document}
\begin{tikzpicture}[x=1pt,y=1pt]
\clip (0,0) rectangle (1135,-733);
\path[use as bounding box] (0,0) rectangle (1135,-733);

% ---------- A24 Embryo ----------
\begin{axis}[cnv, at={(83pt,-156pt)}]
\gridl
\addplot[redpt] table[x=x,y=a]{\redtab};
\addplot[redpt] table[x=x,y=b]{\redtab};
\addplot[bluept] table[x=x,y=a]{\bluetab};
\addplot[bluept] table[x=x,y=b]{\bluetab};
\addplot[gapl] table[x=x,y=y]{\gaptab};
\addplot[redpt, mark size=1.2pt] coordinates {(918,4.6) (1856,3.6) (2647,4.0) (2677,4.0) (1575,0.8)};
\addplot[bluept, mark size=1.2pt] coordinates {(290,3.0) (2440,2.9)};
\addplot[blkpt] coordinates {(1526,4.7) (1435,3.3) (1976,3.4) (2589,4.1) (2770,6.1) (1932,1.5) (2610,1.5) (2839,1.1)};
\end{axis}

% ---------- A24 niPGT-A ----------
\begin{axis}[cnv, at={(83pt,-333pt)}]
\gridl
\addplot[redpt] table[x=x,y=c]{\redtab};
\addplot[redpt] table[x=x,y=d]{\redtab};
\addplot[bluept] table[x=x,y=c]{\bluetab};
\addplot[bluept] table[x=x,y=d]{\bluetab};
\addplot[gapl] table[x=x,y=y]{\gaptab};
\addplot[redpt, mark size=1.2pt] coordinates {(10,3.0) (1484,3.0)};
\addplot[blkpt] coordinates {(2072,1.0) (2157,4.3) (2134,2.95) (2487,1.2) (2647,1.35) (2817,1.2) (2040,2.95)};
\end{axis}

% ---------- A14 Embryo ----------
\begin{axis}[cnv, at={(83pt,-533pt)}]
\gridl
\addplot[redpt] table[x=x,y=e]{\redtab};
\addplot[redpt] table[x=x,y=f]{\redtab};
\addplot[bluept] table[x=x,y=e]{\bluetab};
\addplot[bluept] table[x=x,y=f]{\bluetab};
\addplot[gapl] table[x=x,y=y]{\gaptab};
\addplot[redpt, mark size=1.2pt] coordinates {(141,1.6) (1583,1.1) (1590,1.3)};
\addplot[blkpt] coordinates {(2770,3.9) (2858,3.9) (2835,1.35) (1806,2.9) (1996,2.95)};
\draw[line width=2.6pt, -{Triangle[length=8pt,width=10pt]}] (axis cs:107,4.0) -- (axis cs:107,1.95);
\draw[line width=2.6pt, -{Triangle[length=8pt,width=10pt]}] (axis cs:1313,5.8) -- (axis cs:1313,3.9);
\end{axis}

% ---------- A14 niPGT-A ----------
\begin{axis}[cnv, at={(83pt,-711pt)}]
\gridl
\addplot[redpt] table[x=x,y=g]{\redtab};
\addplot[redpt] table[x=x,y=h]{\redtab};
\addplot[bluept] table[x=x,y=g]{\bluetab};
\addplot[bluept] table[x=x,y=h]{\bluetab};
\addplot[gapl] table[x=x,y=y]{\gaptab};
\addplot[redpt, mark size=1.2pt] coordinates {(2150,2.9) (2796,2.8)};
\addplot[blkpt] coordinates {(1228,4.3) (188,2.35) (2136,3.35) (2431,2.9) (2817,3.2)};
\draw[line width=2.6pt, -{Triangle[length=8pt,width=10pt]}] (axis cs:98,4.0) -- (axis cs:98,2.0);
\draw[line width=2.6pt, -{Triangle[length=8pt,width=10pt]}] (axis cs:1313,5.9) -- (axis cs:1313,4.0);
\end{axis}

% titles
\begin{scope}[every node/.style={font=\hfont\bfseries\fontsize{15.4}{16}\selectfont, anchor=base, inner sep=0pt}]
\node at (608,-36) {A24 Embryo};
\node at (608,-214) {A24 niPGT-A};
\node at (608,-414) {A14 Embryo};
\node at (608,-592) {A14 niPGT-A};
\end{scope}
% karyotype notes
\begin{scope}[every node/.style={font=\hfont\bfseries\fontsize{14}{15}\selectfont, anchor=base west, inner sep=0pt}]
\node at (88,-69) {46,XY};
\node at (88,-246) {46,XY};
\node at (88,-445) {46,XY,-1(\tm1),+7(\tm3)};
\node at (88,-624) {46,XY,-1(\tm1),+7(\tm3)};
\end{scope}
% y labels
\begin{scope}[every node/.style={font=\vfont\fontsize{22}{22}\selectfont, rotate=90, anchor=south, inner sep=0pt}]
\node at (32,-101) {Copy Number};
\node at (32,-278) {Copy Number};
\node at (32,-478) {Copy Number};
\node at (32,-656) {Copy Number};
\end{scope}
% panel letters
\node[font=\fontsize{22}{22}\selectfont, anchor=base west, inner sep=0pt] at (7,-33) {A};
\node[font=\fontsize{22}{22}\selectfont, anchor=base west, inner sep=0pt] at (7,-409) {B};
\end{tikzpicture}
\end{document}
